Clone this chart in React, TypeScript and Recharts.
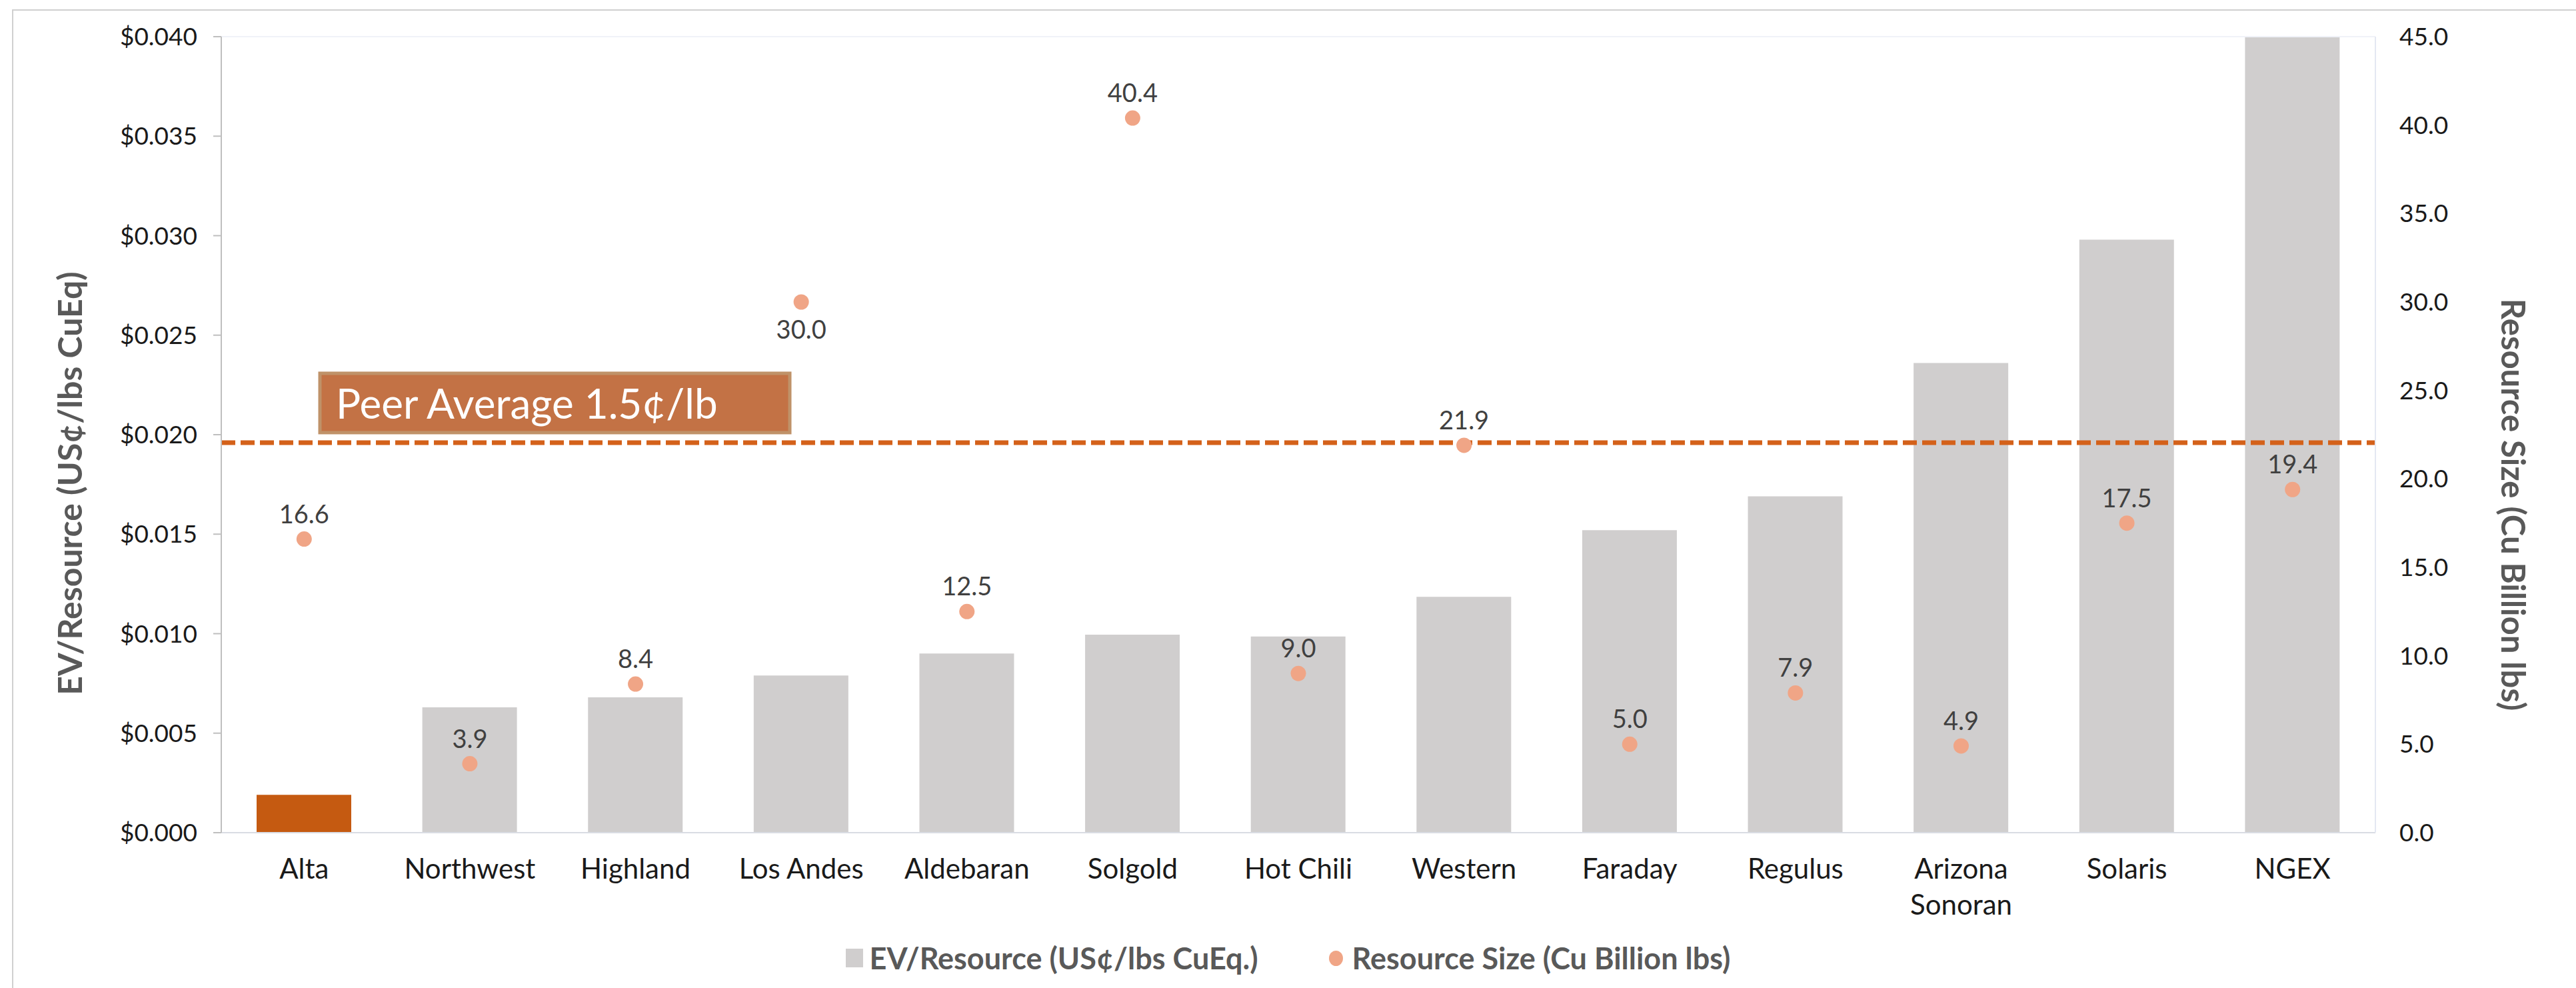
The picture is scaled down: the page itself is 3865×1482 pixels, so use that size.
import React from "react";
import {
  Bar,
  Cell,
  ComposedChart,
  LabelList,
  Legend,
  Line,
  ReferenceLine,
  XAxis,
  YAxis,
} from "recharts";

const categories = [
  "Alta",
  "Northwest",
  "Highland",
  "Los Andes",
  "Aldebaran",
  "Solgold",
  "Hot Chili",
  "Western",
  "Faraday",
  "Regulus",
  "Arizona Sonoran",
  "Solaris",
  "NGEX",
];

// EV/Resource (US$/lbs CuEq), left axis
const evPerResource = [
  0.0019, 0.0063, 0.0068, 0.0079, 0.009, 0.00995, 0.00986, 0.01185, 0.0152, 0.0169, 0.0236,
  0.0298, 0.04,
];

// Resource size (Cu billion lbs), right axis
const resourceSize = [16.6, 3.9, 8.4, 30.0, 12.5, 40.4, 9.0, 21.9, 5.0, 7.9, 4.9, 17.5, 19.4];

const leftTicks = [0, 0.005, 0.01, 0.015, 0.02, 0.025, 0.03, 0.035, 0.04];
const rightTicks = [0, 5, 10, 15, 20, 25, 30, 35, 40, 45];

const peerAverage = 0.0196;
const peerLabel = "Peer Average 1.5¢/lb";
const highlighted = "Alta";
const labelsBelow = ["Los Andes"];

const seriesNames = ["EV/Resource (US¢/lbs CuEq.)", "Resource Size (Cu Billion lbs)"];
const leftTitle = "EV/Resource (US¢/lbs CuEq)";
const rightTitle = "Resource Size (Cu Billion lbs)";

const rows = categories.map((name, i) => ({
  name,
  ev: evPerResource[i],
  size: resourceSize[i],
}));

const FONT = "Lato, 'Open Sans', sans-serif";
const BAR_GREY = "#D0CECE";
const HIGHLIGHT = "#C55A11";
const DOT = "#F0A586";
const LINE_ORANGE = "#D4611A";

function CategoryTick({ x, y, payload }: any) {
  const value: string = payload.value;
  const lines = value.length > 12 ? value.split(" ") : [value];
  return (
    <text x={x} y={y} textAnchor="middle" fontFamily={FONT} fontSize={42} fill="#1a1a1a">
      {lines.map((line, i) => (
        <tspan key={line} x={x} dy={i === 0 ? 69 : 54}>
          {line}
        </tspan>
      ))}
    </text>
  );
}

function DotLabel({ x, y, value, index }: any) {
  const below = labelsBelow.includes(categories[index]);
  return (
    <text
      x={x}
      y={below ? y + 40 : y - 39}
      textAnchor="middle"
      dominantBaseline="central"
      fontFamily={FONT}
      fontSize={38}
      fill="#404040"
    >
      {Number(value).toFixed(1)}
    </text>
  );
}

function PeerBox({ viewBox }: any) {
  const { x, y } = viewBox;
  return (
    <g>
      <rect
        x={x + 148}
        y={y - 104}
        width={705}
        height={89}
        fill="#C37245"
        stroke="#BF9269"
        strokeWidth={5}
      />
      <text x={x + 172} y={y - 36} fontFamily={FONT} fontSize={62} fill="#ffffff">
        {peerLabel}
      </text>
    </g>
  );
}

function LeftTitle({ viewBox }: any) {
  const cx = viewBox.x + 104;
  const cy = viewBox.y + viewBox.height / 2 + 73;
  return (
    <text
      x={cx}
      y={cy}
      transform={`rotate(-90, ${cx}, ${cy})`}
      textAnchor="middle"
      dominantBaseline="central"
      fontFamily={FONT}
      fontWeight={700}
      fontSize={50}
      fill="#595959"
    >
      {leftTitle}
    </text>
  );
}

function RightTitle({ viewBox }: any) {
  const cx = viewBox.x + 208;
  const cy = viewBox.y + viewBox.height / 2 + 105;
  return (
    <text
      x={cx}
      y={cy}
      transform={`rotate(90, ${cx}, ${cy})`}
      textAnchor="middle"
      dominantBaseline="central"
      fontFamily={FONT}
      fontWeight={700}
      fontSize={49}
      fill="#595959"
    >
      {rightTitle}
    </text>
  );
}

function ChartLegend() {
  return (
    <div
      style={{
        height: 90,
        display: "flex",
        justifyContent: "center",
        alignItems: "center",
        fontFamily: FONT,
        fontWeight: 700,
        fontSize: 45,
        color: "#595959",
      }}
    >
      <span
        style={{ display: "inline-block", width: 26, height: 28, background: BAR_GREY, marginRight: 10 }}
      />
      <span>{seriesNames[0]}</span>
      <span
        style={{
          display: "inline-block",
          width: 21,
          height: 23,
          borderRadius: "50%",
          background: DOT,
          marginLeft: 106,
          marginRight: 14,
        }}
      />
      <span>{seriesNames[1]}</span>
    </div>
  );
}

export default function App() {
  return (
    <div
      style={{
        position: "absolute",
        left: 0,
        top: 0,
        width: 3865,
        height: 1482,
        background: "#ffffff",
        overflow: "hidden",
      }}
    >
      <div
        style={{
          position: "absolute",
          left: 18,
          top: 14,
          width: 3900,
          height: 1500,
          borderLeft: "2px solid #D0D0D0",
          borderTop: "2px solid #D0D0D0",
        }}
      />
      <ComposedChart
        width={3865}
        height={1482}
        data={rows}
        margin={{ top: 55, right: 0, bottom: 0, left: 0 }}
      >
        <XAxis
          dataKey="name"
          interval={0}
          tickLine={false}
          tickSize={0}
          tickMargin={0}
          height={143}
          axisLine={{ stroke: "#D9DCE3", strokeWidth: 2 }}
          tick={<CategoryTick />}
        />
        <YAxis
          yAxisId="left"
          orientation="left"
          width={332}
          domain={[0, 0.04]}
          ticks={leftTicks}
          tickFormatter={(v: number) => `$${v.toFixed(3)}`}
          tickSize={12}
          tickMargin={24}
          tickLine={{ stroke: "#BFBFBF", strokeWidth: 2 }}
          axisLine={{ stroke: "#BFBFBF", strokeWidth: 2 }}
          tick={{ fontFamily: FONT, fontSize: 37, fill: "#1a1a1a" }}
          label={LeftTitle}
        />
        <YAxis
          yAxisId="right"
          orientation="right"
          width={301}
          domain={[0, 45]}
          ticks={rightTicks}
          tickFormatter={(v: number) => v.toFixed(1)}
          tickLine={false}
          tickSize={6}
          tickMargin={30}
          axisLine={{ stroke: "#E4E8F2", strokeWidth: 2 }}
          tick={{ fontFamily: FONT, fontSize: 37, fill: "#1a1a1a" }}
          label={RightTitle}
        />
        <Legend verticalAlign="bottom" align="center" content={<ChartLegend />} />
        <ReferenceLine yAxisId="left" y={0.04} stroke="#F0F2F8" strokeWidth={2} />
        <Bar yAxisId="left" dataKey="ev" name={seriesNames[0]} barSize={142} isAnimationActive={false}>
          {rows.map((r) => (
            <Cell key={r.name} fill={r.name === highlighted ? HIGHLIGHT : BAR_GREY} />
          ))}
        </Bar>
        <ReferenceLine
          yAxisId="left"
          y={peerAverage}
          stroke={LINE_ORANGE}
          strokeWidth={7}
          strokeDasharray="21 8"
          label={PeerBox}
        />
        <Line
          yAxisId="right"
          dataKey="size"
          name={seriesNames[1]}
          stroke="none"
          dot={{ r: 11.5, fill: DOT, stroke: "none" }}
          activeDot={false}
          isAnimationActive={false}
        >
          <LabelList dataKey="size" content={<DotLabel />} />
        </Line>
      </ComposedChart>
    </div>
  );
}
